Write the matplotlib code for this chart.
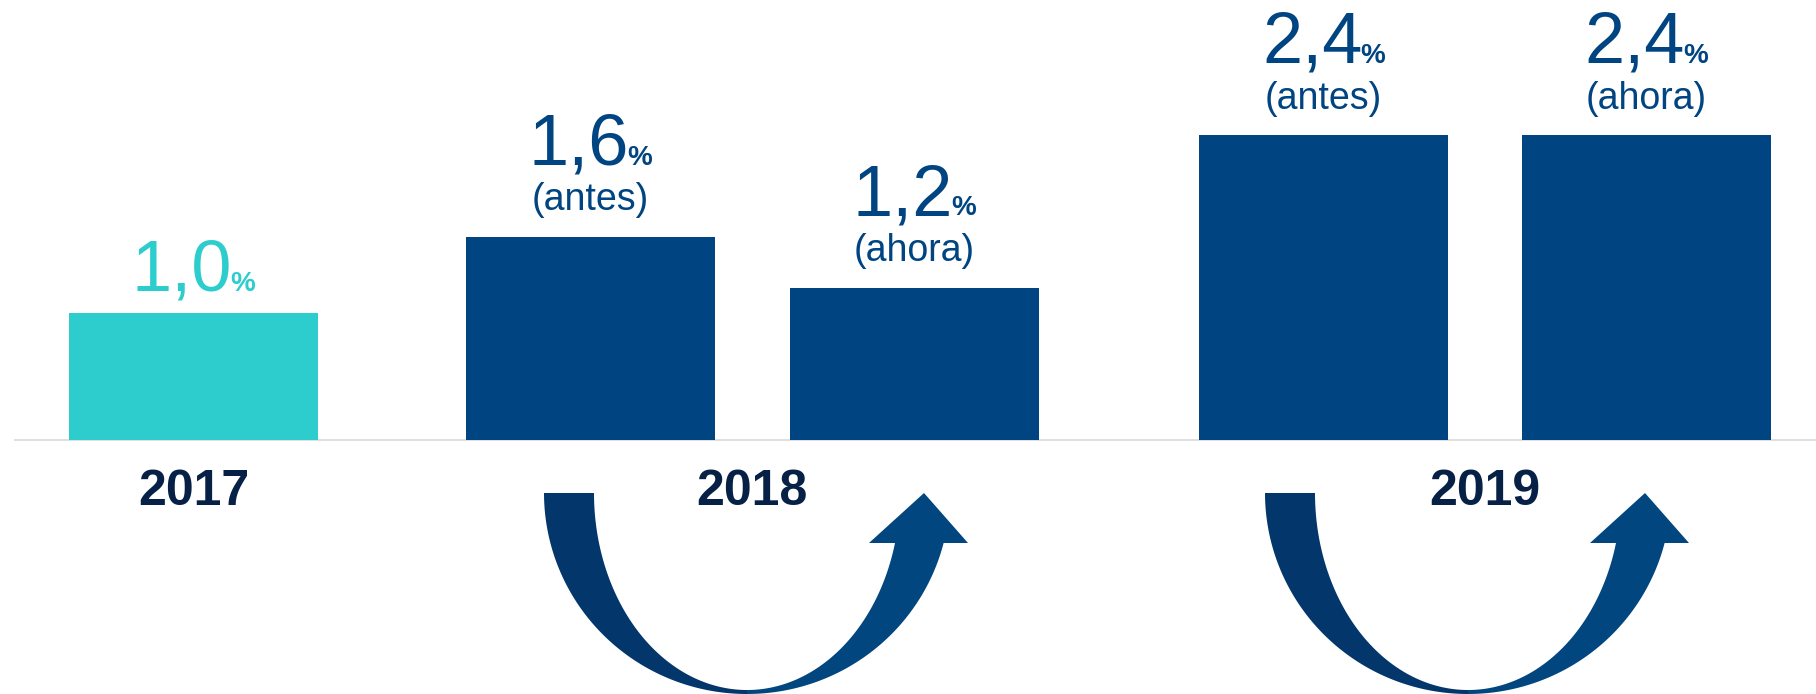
import numpy as np
import matplotlib
matplotlib.use("Agg")
import matplotlib.pyplot as plt
from matplotlib.patches import Polygon

plt.rcParams["font.family"] = ["Liberation Sans", "DejaVu Sans"]

# growth forecast values (%)
years = ["2017", "2018", "2019"]
bar_values = [1.0, 1.6, 1.2, 2.4, 2.4]
bar_tags = [None, "(antes)", "(ahora)", "(antes)", "(ahora)"]
bar_group = [0, 1, 1, 2, 2]

# layout (x in pixel-like units across the figure width)
W, H, DPI = 1816, 694, 100
bar_x = [193.5, 590.5, 914.0, 1323.5, 1646.0]
bar_w = 249
px_per_unit = 127.0
base_px = 440  # baseline, pixels from top
arrow_cx = [747, 1468]

TEAL = "#2ECDCD"
NAVY = "#004481"
DARK = "#072146"
ARROW_L = "#03366A"
ARROW_R = "#02467F"

fig = plt.figure(figsize=(W / DPI, H / DPI), dpi=DPI)
ax = fig.add_axes([0, 0, 1, 1])
ax.set_xlim(0, W)
ax.set_ylim(-(H - base_px) / px_per_unit, base_px / px_per_unit)
ax.axis("off")

colors = [TEAL if g == 0 else NAVY for g in bar_group]
ax.bar(bar_x, bar_values, width=bar_w, color=colors, zorder=2)
ax.plot([14, W], [0, 0], color="#D9D9D9", lw=1.2, zorder=1, solid_capstyle="butt")

renderer = fig.canvas.get_renderer()
pt = 72.0 / DPI


def value_label(x, value, color, dy_pt):
    txt = f"{value:.1f}".replace(".", ",")
    big = ax.annotate(txt, (x, value), xytext=(0, dy_pt), textcoords="offset points",
                      ha="left", va="baseline", fontsize=52, color=color)
    pct = ax.annotate("%", (x, value), xytext=(0, dy_pt), textcoords="offset points",
                      ha="left", va="baseline", fontsize=20, fontweight="bold", color=color)
    wb = big.get_window_extent(renderer).width
    wp = pct.get_window_extent(renderer).width
    gap = -2
    left = -(wb + gap + wp) / 2
    big.xyann = (left * pt, dy_pt)
    pct.xyann = ((left + wb + gap) * pt, dy_pt)


for x, v, tag, c in zip(bar_x, bar_values, bar_tags, colors):
    if tag is None:
        value_label(x, v, c, 16)
    else:
        value_label(x, v, c, 52)
        ax.annotate(tag, (x, v), xytext=(0, 19), textcoords="offset points",
                    ha="center", va="baseline", fontsize=27, color=c)

# year labels under each group
for g, year in enumerate(years):
    xs = [x for x, gg in zip(bar_x, bar_group) if gg == g]
    xc = (min(xs) + max(xs)) / 2
    ax.annotate(year, (xc, 0), xytext=(0, -65 * pt), textcoords="offset points",
                ha="center", va="baseline", fontsize=36, fontweight="bold", color=DARK)

# curved "before -> now" arrows, drawn in pixel coordinates
deco = fig.add_axes([0, 0, 1, 1])
deco.set_xlim(0, W)
deco.set_ylim(H, 0)
deco.axis("off")
deco.patch.set_alpha(0)


def u_arrow(cx, top=493, head_y=543, rx_out=203, ry_out=201, rx_in=153, ry_in=197):
    t = np.linspace(np.pi, np.pi / 2, 100)
    outer = np.c_[cx + rx_out * np.cos(t), top + ry_out * np.sin(t)]
    inner = np.c_[cx + rx_in * np.cos(t), top + ry_in * np.sin(t)]
    deco.add_patch(Polygon(np.vstack([outer, inner[::-1]]), closed=True,
                           fc=ARROW_L, ec="none"))

    t_out = np.linspace(np.pi / 2, np.arcsin((head_y - top) / ry_out), 100)
    t_in = np.linspace(np.arcsin((head_y - top) / ry_in), np.pi / 2, 100)
    outer_r = np.c_[cx + rx_out * np.cos(t_out), top + ry_out * np.sin(t_out)]
    inner_r = np.c_[cx + rx_in * np.cos(t_in), top + ry_in * np.sin(t_in)]
    head = np.array([(cx + 221, head_y), (cx + 177, top), (cx + 122, head_y)])
    deco.add_patch(Polygon(np.vstack([outer_r, head, inner_r]), closed=True,
                           fc=ARROW_R, ec="none"))


for cx in arrow_cx:
    u_arrow(cx)

fig.savefig("out.png", dpi=DPI)
